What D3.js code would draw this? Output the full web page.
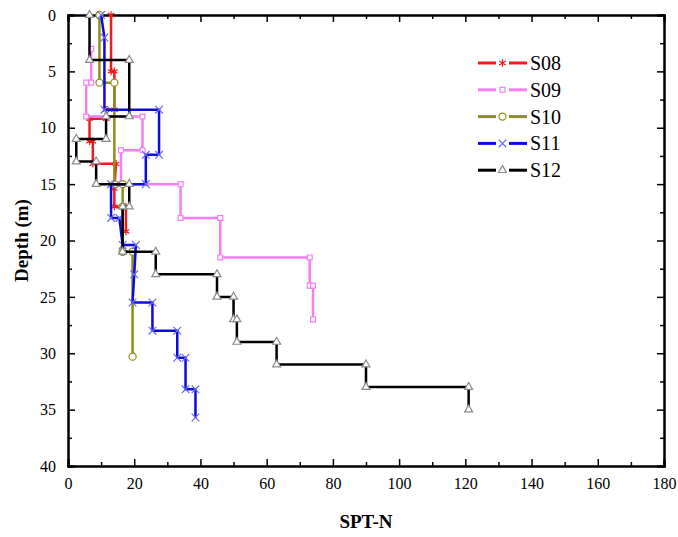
<!DOCTYPE html>
<html>
<head>
<meta charset="utf-8">
<script src="https://cdn.jsdelivr.net/npm/d3@7"></script>
<style>
  body { margin: 0; background: #fff; }
  text { font-family: "Liberation Serif", "Times New Roman", serif; }
</style>
</head>
<body>
<div id="chart"></div>
<script>
// borehole names
const boreholes = ['S08', 'S09', 'S10', 'S11', 'S12'];

// [SPT-N, depth (m)] step profiles
const s08 = [[13,0],[13,5],[14,5],[14,8.4],[11.5,8.4],[11.5,9.2],[6.5,9.2],[6.5,11.2],[7.5,11.2],[7.5,13.2],
  [14.5,13.2],[14,15.4],[14,17],[17.5,17],[17.5,19.2]];
const s09 = [[7,3],[7,6],[5.5,6],[5.5,9],[22.5,9],[22.5,12],[16,12],[16,15],[34,15],[34,18],[46,18],[46,21.5],
  [73,21.5],[73,24],[74,24],[74,27]];
const s10 = [[9.5,0],[9.5,6],[14,6],[14,15],[16.5,15],[16.5,17],[16.5,21],[19.5,21],[19.5,30.3]];
const s11 = [[10,0],[11,2],[11,8.4],[27.5,8.4],[27.5,12.4],[23.5,12.4],[23.5,15],[13,15],[13,18],[15.5,18],
  [16.5,20.4],[20.5,20.4],[20,23],[19.5,25.5],[25.5,25.5],[25.5,28],[33,28],[33,30.4],[35.5,30.4],
  [35.5,33.2],[38.5,33.2],[38.5,35.7]];
const s12 = [[6.5,0],[6.5,4],[18.5,4],[18.5,9],[11.5,9],[11.5,11],[2.5,11],[2.5,13],[8.5,13],[8.5,15],
  [18.5,15],[18.5,17],[16.5,17],[16.5,21],[26.5,21],[26.5,23],[45,23],[45,25],[50,25],[50,27],[51,27],
  [51,29],[63,29],[63,31],[90,31],[90,33],[121,33],[121,35]];

const xTicks = [0, 20, 40, 60, 80, 100, 120, 140, 160, 180];
const yTicks = [0, 5, 10, 15, 20, 25, 30, 35, 40];

const series = [
  {name: 'S08', values: s08, color: '#ee1c1c', stroke: '#ee1c1c', sym: d3.symbolAsterisk, size: 40, fill: 'none'},
  {name: 'S09', values: s09, color: '#f47ff4', stroke: '#f47ff4', sym: d3.symbolSquare2, size: 30, fill: '#fff'},
  {name: 'S10', values: s10, color: '#8e8e1c', stroke: '#8e8e1c', sym: d3.symbolCircle, size: 40, fill: '#fff'},
  {name: 'S11', values: s11, color: '#0c0cdc', stroke: '#6a6af0', sym: d3.symbolTimes, size: 40, fill: 'none'},
  {name: 'S12', values: s12, color: '#000', stroke: '#8a8a8a', sym: d3.symbolTriangle2, size: 45, fill: '#fff'}
];

const width = 678, height = 537;
const margin = {top: 15, right: 14, bottom: 71, left: 68};
const innerW = width - margin.left - margin.right;
const innerH = height - margin.top - margin.bottom;

const svg = d3.select('#chart').append('svg')
  .attr('width', width)
  .attr('height', height);

const g = svg.append('g')
  .attr('transform', `translate(${margin.left},${margin.top})`);

const x = d3.scaleLinear().domain([0, 180]).range([0, innerW]);
const y = d3.scaleLinear().domain([0, 40]).range([0, innerH]);

// minor ticks first, then major ticks with labels (ticks point inward)
const xMinor = d3.range(10, 180, 20);
const yMinor = d3.range(2.5, 40, 5);

g.append('g').attr('transform', `translate(0,${innerH})`)
  .call(d3.axisBottom(x).tickValues(xMinor).tickSize(-4).tickFormat(''));
g.append('g')
  .call(d3.axisTop(x).tickValues(xMinor).tickSize(-4).tickFormat(''));
g.append('g')
  .call(d3.axisLeft(y).tickValues(yMinor).tickSize(-4).tickFormat(''));
g.append('g').attr('transform', `translate(${innerW},0)`)
  .call(d3.axisRight(y).tickValues(yMinor).tickSize(-4).tickFormat(''));

const xAxisG = g.append('g').attr('transform', `translate(0,${innerH})`)
  .call(d3.axisBottom(x).tickValues(xTicks).tickSize(-7).tickPadding(12).tickFormat(d3.format('d')));
g.append('g')
  .call(d3.axisTop(x).tickValues(xTicks).tickSize(-7).tickFormat(''));
const yAxisG = g.append('g')
  .call(d3.axisLeft(y).tickValues(yTicks).tickSize(-7).tickPadding(12).tickFormat(d3.format('d')));
g.append('g').attr('transform', `translate(${innerW},0)`)
  .call(d3.axisRight(y).tickValues(yTicks).tickSize(-7).tickFormat(''));

g.selectAll('.domain').attr('stroke', '#000').attr('stroke-width', 2);
g.selectAll('.tick line').attr('stroke', '#000').attr('stroke-width', 1.5);
g.selectAll('.tick text')
  .attr('fill', '#000')
  .style('font-family', '"Liberation Serif", serif')
  .style('font-size', '16px');

// lines
const line = d3.line().x(d => x(d[0])).y(d => y(d[1]));

const seriesG = g.selectAll('.series').data(series).join('g').attr('class', 'series');

seriesG.append('path')
  .attr('d', d => line(d.values))
  .attr('fill', 'none')
  .attr('stroke', d => d.color)
  .attr('stroke-width', 2.5);

seriesG.selectAll('.marker')
  .data(d => d.values.map(v => ({v: v, s: d})))
  .join('path')
  .attr('class', 'marker')
  .attr('transform', d => `translate(${x(d.v[0])},${y(d.v[1])})`)
  .attr('d', d => d3.symbol(d.s.sym, d.s.size)())
  .attr('fill', d => d.s.fill)
  .attr('stroke', d => d.s.stroke)
  .attr('stroke-width', 1.2);

// legend
const legend = svg.append('g').attr('transform', 'translate(478,63)');
const item = legend.selectAll('.item').data(series).join('g')
  .attr('class', 'item')
  .attr('transform', (d, i) => `translate(0,${i * 26.8})`);

item.append('line').attr('x1', 0).attr('x2', 18).attr('stroke', d => d.color).attr('stroke-width', 3);
item.append('line').attr('x1', 31).attr('x2', 49).attr('stroke', d => d.color).attr('stroke-width', 3);
item.append('path')
  .attr('transform', 'translate(24.5,0)')
  .attr('d', d => d3.symbol(d.sym, d.size)())
  .attr('fill', d => d.fill)
  .attr('stroke', d => d.stroke)
  .attr('stroke-width', 1.2);
item.append('text')
  .attr('x', 52)
  .attr('dy', '0.35em')
  .style('font-size', '20px')
  .text(d => d.name);

// axis titles
svg.append('text')
  .attr('x', margin.left + x(90))
  .attr('y', 528)
  .attr('text-anchor', 'middle')
  .style('font-size', '19px')
  .style('font-weight', 'bold')
  .text('SPT-N');

svg.append('text')
  .attr('transform', `translate(28,${margin.top + innerH / 2}) rotate(-90)`)
  .attr('text-anchor', 'middle')
  .style('font-size', '19px')
  .style('font-weight', 'bold')
  .text('Depth (m)');
</script>
</body>
</html>
